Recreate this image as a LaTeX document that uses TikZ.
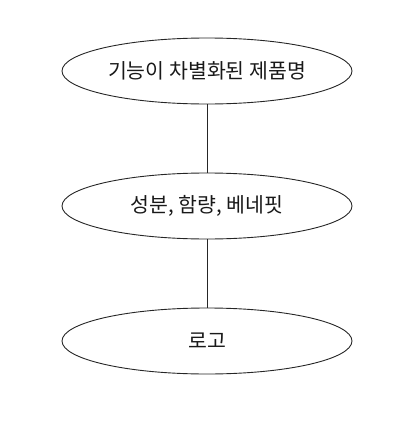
\documentclass[tikz,border=0pt]{standalone}
\usepackage{fontspec}
\usetikzlibrary{shapes.geometric}
\newfontfamily\kr{Noto Sans CJK KR}
\begin{document}
\begin{tikzpicture}[x=1pt,y=-1pt,
  ell/.style={draw=black!85,line width=0.9pt,ellipse,minimum width=290pt,minimum height=66pt,inner sep=0pt,font=\kr\fontsize{20.5}{24}\selectfont,text=black!90},
  conn/.style={draw=black!85,line width=0.9pt}]
\useasboundingbox (0,0) rectangle (410,423);
\node[ell] (a) at (207,71) {기능이 차별화된 제품명};
\node[ell] (b) at (207,206) {성분, 함량, 베네핏};
\node[ell] (c) at (207,341) {로고};
\draw[conn] (a) -- (b);
\draw[conn] (b) -- (c);
\end{tikzpicture}
\end{document}
